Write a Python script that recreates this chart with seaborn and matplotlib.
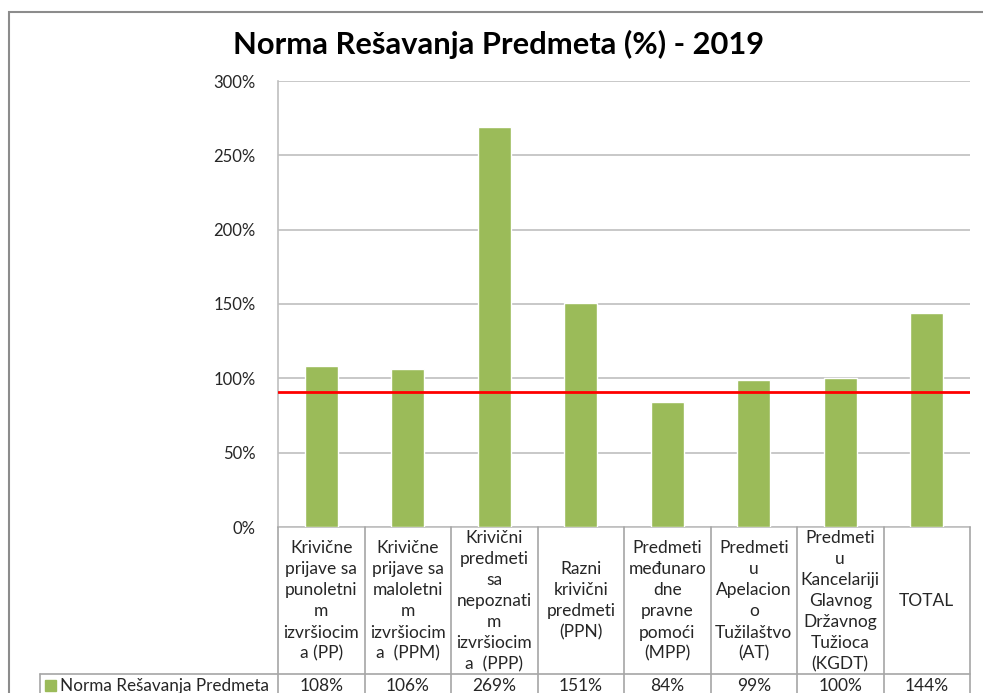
import matplotlib
matplotlib.use("Agg")
import pandas as pd
import matplotlib.pyplot as plt
import seaborn as sns
from matplotlib.lines import Line2D
from matplotlib.patches import Rectangle
from matplotlib.transforms import blended_transform_factory

# data
codes = ["PP", "PPM", "PPP", "PPN", "MPP", "AT", "KGDT", "TOTAL"]
category_labels = [
    "Krivične\nprijave sa\npunoletni\nm\nizvršiocim\na (PP)",
    "Krivične\nprijave sa\nmaloletni\nm\nizvršiocim\na  (PPM)",
    "Krivični\npredmeti\nsa\nnepoznati\nm\nizvršiocim\na  (PPP)",
    "Razni\nkrivični\npredmeti\n(PPN)",
    "Predmeti\nmeđunaro\ndne\npravne\npomoći\n(MPP)",
    "Predmeti\nu\nApelacion\no\nTužilaštvo\n(AT)",
    "Predmeti\nu\nKancelariji\nGlavnog\nDržavnog\nTužioca\n(KGDT)",
    "TOTAL",
]
values = [108, 106, 269, 151, 84, 99, 100, 144]
value_labels = ["108%", "106%", "269%", "151%", "84%", "99%", "100%", "144%"]
target_rate = 91
y_ticks = [0, 50, 100, 150, 200, 250, 300]
series_name = "Norma Rešavanja Predmeta"
chart_title = "Norma Rešavanja Predmeta (%) - 2019"

GREEN = "#9BBB59"
RED = "#FF0000"
GRID = "#BFBFBF"
TABLE = "#A6A6A6"
TEXT = "#262626"

W, H = 983, 693


def fx(px):
    return px / W


def fy(py):
    return 1 - py / H


def main():
    sns.set_style("white")
    plt.rcParams["font.family"] = ["Lato", "DejaVu Sans"]

    df = pd.DataFrame({"code": codes, "value": values})

    fig = plt.figure(figsize=(W / 100, H / 100), dpi=100)
    ax = fig.add_axes([fx(278), fy(527), fx(970) - fx(278), fy(81) - fy(527)])

    sns.barplot(data=df, x="code", y="value", color=GREEN, saturation=1,
                width=0.38, errorbar=None, ax=ax, zorder=3)
    ax.axhline(target_rate, color=RED, lw=2, zorder=4)

    ax.set_xlim(-0.5, len(codes) - 0.5)
    ax.set_ylim(0, 300)
    ax.set_yticks(y_ticks)
    ax.set_yticklabels([f"{t}%" for t in y_ticks], fontsize=12, color=TEXT)
    ax.set_xticks([])
    ax.set_xlabel("")
    ax.set_ylabel("")
    ax.tick_params(axis="y", length=0, pad=16)
    ax.yaxis.grid(True, color=GRID, lw=1.2, zorder=0)
    for side in ["top", "right"]:
        ax.spines[side].set_visible(False)
    for side in ["left", "bottom"]:
        ax.spines[side].set_color(GRID)
        ax.spines[side].set_linewidth(1.2)

    fig.text(fx(499), fy(44), chart_title, ha="center", va="center",
             fontsize=22.2, fontweight="bold", color="black")

    # data table under the plot
    trans = blended_transform_factory(ax.transData, fig.transFigure)
    for i in range(len(codes) + 1):
        fig.add_artist(Line2D([i - 0.5, i - 0.5], [fy(527), fy(700)],
                              transform=trans, color=TABLE, lw=1.2))
    fig.add_artist(Line2D([fx(40), fx(970)], [fy(674), fy(674)],
                          transform=fig.transFigure, color=TABLE, lw=1.2))
    fig.add_artist(Line2D([fx(40), fx(40)], [fy(674), fy(700)],
                          transform=fig.transFigure, color=TABLE, lw=1.2))

    for i, (lab, val) in enumerate(zip(category_labels, value_labels)):
        fig.text(i, fy(601), lab, transform=trans, ha="center", va="center",
                 multialignment="center", fontsize=12.5, color=TEXT,
                 linespacing=1.39)
        fig.text(i, fy(686), val, transform=trans, ha="center", va="center",
                 fontsize=12.5, color=TEXT)

    fig.add_artist(Rectangle((fx(45), fy(691)), fx(11), fy(680) - fy(691),
                             transform=fig.transFigure, color=GREEN))
    fig.text(fx(60), fy(686), series_name, ha="left", va="center",
             fontsize=12.3, color=TEXT)

    # outer chart frame
    fig.add_artist(Rectangle((fx(9), fy(700)), fx(990) - fx(9), fy(12) - fy(700),
                             transform=fig.transFigure, fill=False,
                             edgecolor="#8C8C8C", lw=1.5))

    fig.savefig("out.png", dpi=100)
    plt.close(fig)


if __name__ == "__main__":
    main()
